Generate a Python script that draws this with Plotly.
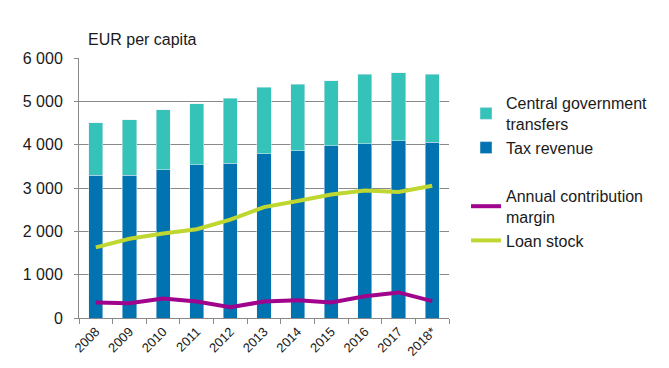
import plotly.graph_objects as go

years = ["2008", "2009", "2010", "2011", "2012", "2013", "2014", "2015", "2016", "2017", "2018*"]
tax_revenue = [3290, 3290, 3420, 3540, 3570, 3790, 3860, 3970, 4020, 4090, 4060]
total_revenue = [4510, 4580, 4810, 4950, 5070, 5320, 5390, 5480, 5620, 5660, 5620]
central_transfers = [t - x for t, x in zip(total_revenue, tax_revenue)]
contribution_margin = [360, 340, 450, 380, 250, 380, 410, 360, 500, 590, 390]
loan_stock = [1630, 1830, 1950, 2050, 2270, 2560, 2700, 2850, 2940, 2910, 3050]
y_ticks = [0, 1000, 2000, 3000, 4000, 5000, 6000]

FONT = "Liberation Sans, Arial, sans-serif"

fig = go.Figure()
fig.add_trace(go.Bar(x=years, y=tax_revenue, name="Tax revenue", marker_color="#0073B0",
                     legend="legend", legendrank=2))
fig.add_trace(go.Bar(x=years, y=central_transfers, name="Central government<br>transfers",
                     marker_color="#35C2B8", legend="legend", legendrank=1))
fig.add_trace(go.Scatter(x=years, y=contribution_margin, name="Annual contribution<br>margin",
                         mode="lines", line=dict(color="#A0048C", width=4),
                         legend="legend2", legendrank=3))
fig.add_trace(go.Scatter(x=years, y=loan_stock, name="Loan stock",
                         mode="lines", line=dict(color="#BFD730", width=4),
                         legend="legend2", legendrank=4))

legend_style = dict(xanchor="left", yanchor="top", traceorder="normal",
                    font=dict(size=16), itemwidth=30, bgcolor="rgba(0,0,0,0)")

fig.update_layout(
    width=669, height=368,
    margin=dict(l=71, r=228, t=50, b=58),
    barmode="stack", bargap=0.58,
    separators=". ",
    paper_bgcolor="white", plot_bgcolor="white",
    font=dict(family=FONT, size=16, color="#1a1a1a"),
    showlegend=True,
    legend=dict(x=1.046, y=0.892, **legend_style),
    legend2=dict(x=1.046, y=0.535, **legend_style),
    xaxis=dict(type="category", showline=True, linecolor="#898989", linewidth=1,
               ticks="outside", tickson="boundaries", ticklen=5, tickcolor="#898989",
               tickangle=-45, tickfont=dict(size=13), showgrid=False),
    yaxis=dict(range=[0, 6000], tickvals=y_ticks, tickformat=",d",
               showline=True, linecolor="#898989", linewidth=1,
               ticks="outside", ticklen=4, tickcolor="#898989", ticklabelstandoff=8,
               showgrid=True, gridcolor="#898989", gridwidth=1, zeroline=False,
               tickfont=dict(size=16)),
    annotations=[dict(text="EUR per capita", xref="paper", yref="paper",
                      x=0.02, y=1.07, xanchor="left", yanchor="middle",
                      showarrow=False, font=dict(size=16))],
)

fig.write_html("out.html")
